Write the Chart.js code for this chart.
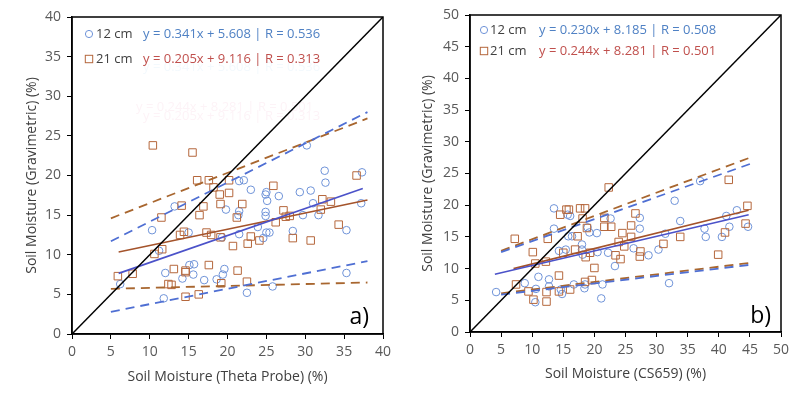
<!DOCTYPE html>
<html>
<head>
<meta charset="utf-8">
<script src="https://cdn.jsdelivr.net/npm/chart.js@4"></script>
<style>
  body { margin: 0; background: #fff; }
  #wrap { position: relative; width: 800px; height: 397px; }
  canvas { position: absolute; top: 0; }
</style>
</head>
<body>
<div id="wrap">
  <canvas id="chartA" width="400" height="397" style="left:0"></canvas>
  <canvas id="chartB" width="400" height="397" style="left:400px"></canvas>
</div>
<script>
// panel a) Theta Probe vs gravimetric
const a12 = [[6.2,6.3],[10.3,13.1],[11.2,10.5],[11.8,4.5],[12.0,7.7],[13.2,16.1],[14.2,7.0],[15.0,12.8],
  [15.1,8.7],[15.7,8.8],[15.6,7.5],[17.0,6.8],[18.6,6.9],[19.4,7.5],[19.6,8.2],[19.3,12.2],[19.8,15.7],
  [21.5,19.3],[22.1,19.4],[21.5,15.5],[21.5,12.6],[21.4,15.0],[22.5,5.2],[23.0,18.2],[23.9,13.5],
  [24.6,12.1],[25.0,12.8],[25.4,12.8],[24.9,15.4],[24.9,14.9],[25.0,17.9],[24.9,17.6],[25.1,16.8],
  [25.8,6.0],[26.6,17.4],[28.4,13.0],[29.3,17.9],[29.7,15.0],[30.2,23.8],[30.7,18.1],[31.0,16.5],
  [31.7,15.0],[32.5,20.6],[32.6,19.1],[35.3,13.1],[35.3,7.7],[37.2,16.5],[37.3,20.4]];
const a21 = [[5.9,7.3],[7.8,7.6],[10.4,23.8],[10.6,10.1],[11.6,10.7],[11.5,14.7],[12.4,6.3],[12.8,6.2],
  [13.1,8.2],[13.9,12.5],[14.1,16.2],[14.4,12.9],[14.6,8.0],[14.6,7.8],[14.6,4.7],[15.5,22.9],[16.1,19.4],
  [16.3,5.0],[16.4,15.0],[16.9,16.1],[17.3,12.8],[17.6,19.4],[17.6,8.7],[17.9,12.5],[18.2,18.5],
  [19.0,17.6],[19.1,16.4],[19.1,12.2],[19.2,6.4],[20.2,19.4],[20.2,17.8],[20.7,11.1],[21.2,14.7],
  [21.3,8.0],[21.9,16.4],[22.5,6.6],[22.6,11.4],[23.0,12.3],[24.1,11.8],[25.9,18.7],[26.2,14.1],
  [27.2,15.6],[27.5,14.8],[28.0,14.9],[28.4,12.1],[30.7,11.8],[32.0,15.7],[32.2,17.0],[33.3,16.7],
  [34.3,13.8],[36.6,20.0]];
const aFit12 = [[6.0,7.65],[37.4,18.36]];
const aFit21 = [[6.0,10.35],[38.0,16.9]];
const aUp12 = [[5.0,11.7],[38.0,28.0]];
const aLo12 = [[5.0,2.8],[38.0,9.2]];
const aUp21 = [[5.0,14.6],[38.0,27.2]];
const aLo21 = [[5.0,5.7],[38.0,6.5]];
const aOneToOne = [[0,0],[40,40]];
const aEq = ['y = 0.341x + 5.608 | R = 0.536', 'y = 0.205x + 9.116 | R = 0.313'];

// panel b) CS659 vs gravimetric
const b12 = [[4.2,6.3],[8.8,7.7],[10.6,6.8],[10.5,4.7],[11.0,8.7],[12.7,8.3],[12.7,7.2],[14.6,6.7],
  [14.8,6.0],[13.5,19.5],[13.5,16.3],[14.3,12.8],[15.4,13.0],[15.7,18.5],[16.1,18.3],[15.8,15.1],
  [16.4,15.1],[18.0,13.8],[18.0,13.0],[18.1,12.2],[18.5,7.5],[18.4,6.9],[16.7,7.5],[18.9,16.5],
  [19.2,15.7],[20.4,15.6],[20.5,12.6],[21.1,5.3],[21.3,7.5],[22.2,12.5],[22.6,17.9],[23.3,10.4],
  [26.3,13.2],[27.3,18.0],[27.3,16.3],[28.7,12.1],[30.3,13.0],[31.4,15.5],[32.0,7.7],[32.9,20.7],
  [33.8,17.5],[37.0,23.8],[37.7,16.3],[37.9,15.0],[40.5,15.0],[41.2,18.3],[41.7,16.6],[42.9,19.2],
  [44.7,16.6]];
const b21 = [[7.2,14.7],[7.4,7.5],[9.4,6.4],[10.1,12.6],[10.2,5.1],[10.5,10.8],[12.2,11.1],[12.5,14.7],
  [12.3,6.3],[12.3,4.8],[14.3,8.9],[14.3,6.4],[14.5,18.5],[15.0,12.5],[15.5,19.3],[15.9,19.3],
  [16.1,6.7],[16.9,13.0],[17.3,15.1],[17.7,19.5],[18.5,19.5],[18.1,17.9],[18.6,11.8],[18.8,16.4],
  [19.3,12.5],[19.6,8.2],[18.5,7.9],[20.0,10.1],[21.6,18.0],[21.6,16.6],[22.7,16.6],[22.3,22.8],
  [23.4,12.1],[24.2,11.5],[23.9,14.2],[24.5,15.6],[24.8,13.5],[25.9,15.0],[25.9,16.8],[26.6,18.7],
  [27.4,12.7],[27.3,11.9],[31.1,13.9],[33.8,15.0],[39.9,12.2],[41.0,15.7],[41.6,24.0],[44.3,17.1],
  [44.6,19.9]];
const bFit12 = [[4.0,9.1],[44.8,18.5]];
const bFit21 = [[7.0,10.0],[44.8,19.2]];
const bUp12 = [[5.0,12.6],[45.0,26.5]];
const bLo12 = [[5.0,5.9],[45.0,10.6]];
const bUp21 = [[5.0,12.8],[45.0,27.5]];
const bLo21 = [[5.0,6.1],[45.0,10.9]];
const bOneToOne = [[0,0],[50,50]];
const bEq = ['y = 0.230x + 8.185 | R = 0.508', 'y = 0.244x + 8.281 | R = 0.501'];

const depthLabels = ['12 cm', '21 cm'];
const FONT = '"Open Sans", sans-serif';
const BLUE_PT = '#6f93d8', BROWN_PT = '#b5673c';
const BLUE_FIT = '#4b52c9', BROWN_FIT = '#a4532b';
const BLUE_DASH = '#4f6fd3', BROWN_DASH = '#a8662f';
const EQ_COLORS = ['#4f81c4', '#c0504d'];

const pts = arr => arr.map(p => ({x: p[0], y: p[1]}));

function lineDs(arr, color, width, dash) {
  return { data: pts(arr), showLine: true, pointRadius: 0, borderColor: color,
    borderWidth: width, borderDash: dash || [], fill: false };
}

function framePlugin(cfg) {
  return {
    id: 'frame',
    afterDraw(chart) {
      const {ctx, chartArea: ca} = chart;
      ctx.save();
      ctx.strokeStyle = '#000';
      ctx.lineWidth = 1.5;
      ctx.strokeRect(ca.left, ca.top, ca.right - ca.left, ca.bottom - ca.top);
      // legend block
      ctx.font = '13px ' + FONT;
      ctx.textBaseline = 'middle';
      cfg.rows.forEach((y, i) => {
        ctx.lineWidth = 1;
        if (i === 0) {
          ctx.strokeStyle = BLUE_PT;
          ctx.beginPath(); ctx.arc(cfg.mx, y, 3.6, 0, Math.PI * 2); ctx.stroke();
        } else {
          ctx.strokeStyle = BROWN_PT;
          ctx.strokeRect(cfg.mx - 3.7, y - 3.7, 7.4, 7.4);
        }
        ctx.fillStyle = '#404040';
        ctx.fillText(depthLabels[i], cfg.lx, y);
        ctx.fillStyle = EQ_COLORS[i];
        ctx.fillText(cfg.eq[i], cfg.ex, y);
      });
      ctx.font = '23px ' + FONT;
      ctx.fillStyle = '#000';
      ctx.textAlign = 'right';
      ctx.fillText(cfg.tag, cfg.tx, cfg.ty);
      ctx.restore();
    }
  };
}

// faint leftover labels visible in the source image
function ghostPlugin() {
  return {
    id: 'ghost',
    beforeDatasetsDraw(chart) {
      const ctx = chart.ctx;
      ctx.save();
      ctx.font = '13px ' + FONT;
      ctx.textBaseline = 'middle';
      ctx.fillStyle = '#f3f9fd';
      ctx.fillText(aEq[0], 143, 67);
      ctx.fillStyle = '#fdf3f7';
      ctx.fillText(bEq[1], 136, 107);
      ctx.fillText(aEq[1], 143, 116);
      ctx.restore();
    }
  };
}

function makeChart(id, opt) {
  const datasets = [
    lineDs(opt.one, '#000', 1.5),
    lineDs(opt.fit12, BLUE_FIT, 1.6),
    lineDs(opt.fit21, BROWN_FIT, 1.6),
    lineDs(opt.up12, BLUE_DASH, 1.8, [9, 6]),
    lineDs(opt.lo12, BLUE_DASH, 1.8, [9, 6]),
    lineDs(opt.up21, BROWN_DASH, 1.8, [9, 6]),
    lineDs(opt.lo21, BROWN_DASH, 1.8, [9, 6]),
    { data: pts(opt.s21), pointStyle: 'rect', pointRadius: 5.3, pointBorderColor: BROWN_PT,
      pointBackgroundColor: 'rgba(0,0,0,0)', pointBorderWidth: 1, showLine: false },
    { data: pts(opt.s12), pointStyle: 'circle', pointRadius: 3.8, pointBorderColor: BLUE_PT,
      pointBackgroundColor: 'rgba(0,0,0,0)', pointBorderWidth: 1, showLine: false }
  ];
  const tickFont = { family: FONT, size: 14 };
  const titleFont = { family: FONT, size: 14 };
  const gridCfg = { display: true, drawOnChartArea: false, drawTicks: true, tickLength: 5, color: '#000' };
  return new Chart(document.getElementById(id), {
    type: 'scatter',
    data: { datasets },
    options: {
      responsive: false,
      animation: false,
      layout: { padding: { top: opt.top, right: opt.right, left: 0, bottom: 0 } },
      plugins: { legend: { display: false }, tooltip: { enabled: false } },
      scales: {
        x: {
          type: 'linear', min: 0, max: opt.max,
          ticks: { stepSize: 5, color: '#595959', font: tickFont, padding: 5, maxRotation: 0 },
          grid: gridCfg,
          border: { display: true, color: '#000', width: 1.5 },
          title: { display: true, text: opt.xTitle, color: '#404040', font: titleFont,
            padding: { top: 4, bottom: opt.xTitlePad } },
          afterFit(s) { s.height = opt.xh; }
        },
        y: {
          type: 'linear', min: 0, max: opt.max,
          ticks: { stepSize: 5, color: '#595959', font: tickFont, padding: 6 },
          grid: gridCfg,
          border: { display: true, color: '#000', width: 1.5 },
          title: { display: true, text: 'Soil Moisture (Gravimetric) (%)', color: '#404040', font: titleFont,
            padding: { top: opt.yTitlePad, bottom: 4 } },
          afterFit(s) { s.width = opt.yw; }
        }
      }
    },
    plugins: opt.plugins
  });
}

makeChart('chartA', {
  s12: a12, s21: a21, fit12: aFit12, fit21: aFit21, up12: aUp12, lo12: aLo12,
  up21: aUp21, lo21: aLo21, one: aOneToOne, max: 40,
  xTitle: 'Soil Moisture (Theta Probe) (%)',
  top: 17, right: 17, xh: 63, yw: 72, xTitlePad: 12, yTitlePad: 24,
  plugins: [ghostPlugin(), framePlugin({ rows: [34, 59], mx: 89, lx: 96, ex: 143, eq: aEq, tag: 'a)', tx: 369, ty: 317 })]
});

makeChart('chartB', {
  s12: b12, s21: b21, fit12: bFit12, fit21: bFit21, up12: bUp12, lo12: bLo12,
  up21: bUp21, lo21: bLo21, one: bOneToOne, max: 50,
  xTitle: 'Soil Moisture (CS659) (%)',
  top: 15, right: 19, xh: 65, yw: 70, xTitlePad: 15, yTitlePad: 20,
  plugins: [framePlugin({ rows: [30, 51], mx: 84, lx: 90, ex: 139, eq: bEq, tag: 'b)', tx: 371, ty: 316 })]
});
</script>
</body>
</html>
